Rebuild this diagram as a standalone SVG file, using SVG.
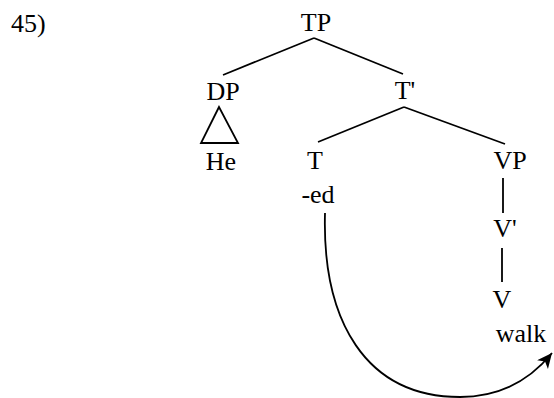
<svg xmlns="http://www.w3.org/2000/svg" width="554" height="398" viewBox="0 0 554 398">
<style>
text{font-family:"Liberation Serif","DejaVu Serif",serif;font-size:26px;fill:#000}
.c{text-anchor:middle}
.e{stroke:#000;stroke-width:1.8;fill:none}
</style>
<defs>
<marker id="ah" markerWidth="18" markerHeight="16" refX="15" refY="7" orient="auto" markerUnits="userSpaceOnUse">
<path d="M0,0 L15,7 L0,14 L4,7 Z" fill="#000"/>
</marker>
</defs>
<rect width="554" height="398" fill="#fff"/>
<text x="11" y="32">45)</text>
<g id="connectors">
<line class="e" x1="314" y1="38" x2="223" y2="75"/>
<line class="e" x1="314" y1="38" x2="403" y2="74"/>
<polygon class="e" points="219,107 201,143 238,143"/>
<line class="e" x1="404" y1="107" x2="318" y2="142"/>
<line class="e" x1="404" y1="107" x2="505" y2="144"/>
<line class="e" x1="503" y1="178" x2="503" y2="213"/>
<line class="e" x1="502" y1="248" x2="502" y2="282"/>
<path class="e" d="M325,213 C322,320 365,397 460,397 C500,397 530,380 552,353" marker-end="url(#ah)"/>
</g>
<g id="TP"><text class="c" x="316" y="31">TP</text></g>
<g id="DP"><text class="c" x="223" y="100">DP</text></g>
<g id="Tbar"><text class="c" x="405" y="99">T'</text></g>
<g id="He"><text class="c" x="221" y="170">He</text></g>
<g id="T"><text class="c" x="315" y="169">T</text></g>
<g id="ed"><text class="c" x="318" y="203">-ed</text></g>
<g id="VP"><text class="c" x="510" y="169">VP</text></g>
<g id="Vbar"><text class="c" x="505" y="237">V'</text></g>
<g id="V"><text class="c" x="502" y="308">V</text></g>
<g id="walk"><text class="c" x="521" y="342">walk</text></g>
</svg>
